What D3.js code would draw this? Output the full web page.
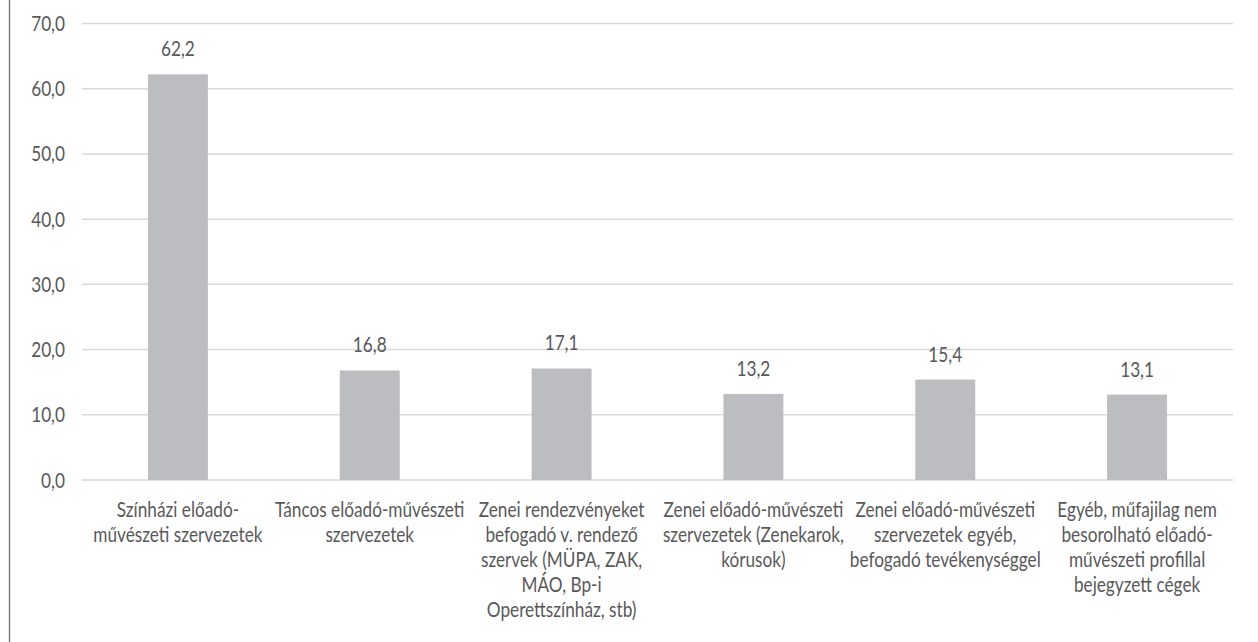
<!DOCTYPE html>
<html>
  <head>
    <meta charset="utf-8">
    <title>Előadó-művészeti szervezetek</title>
    <script src="https://cdn.jsdelivr.net/npm/d3@7"></script>
    <style>
      body { margin: 0; background: #fff; }
      svg { display: block; }
    </style>
  </head>
  <body>
    <svg></svg>
    <script>
      let categories = [
        "Színházi előadó-\nművészeti szervezetek",
        "Táncos előadó-művészeti\nszervezetek",
        "Zenei rendezvényeket\nbefogadó v. rendező\nszervek (MÜPA, ZAK,\nMÁO, Bp-i\nOperettszínház, stb)",
        "Zenei előadó-művészeti\nszervezetek (Zenekarok,\nkórusok)",
        "Zenei előadó-művészeti\nszervezetek egyéb,\nbefogadó tevékenységgel",
        "Egyéb, műfajilag nem\nbesorolható előadó-\nművészeti profillal\nbejegyzett cégek"
      ];
      let values = [62.2, 16.8, 17.1, 13.2, 15.4, 13.1];
      let yTicks = [0, 10, 20, 30, 40, 50, 60, 70];

      let w = 1258, h = 642;
      let margin = {top: 23.5, bottom: 162, left: 82, right: 25};
      let fontFamily = `Lato, 'Open Sans', sans-serif`;
      let textColor = "#595959";
      let fontSize = 21;
      let squeeze = 0.82;   // the glyphs in the picture are narrow
      let fmt = v => d3.format(".1f")(v).replace(".", ",");

      let data = categories.map((c, i) => ({name: c, value: values[i]}));

      let svg = d3.select("svg")
                  .attr("width", w)
                  .attr("height", h);

      let x = d3.scaleBand()
                .domain(categories)
                .range([margin.left, w - margin.right])
                .paddingInner(0.6875)
                .paddingOuter(0.34375);

      let y = d3.scaleLinear()
                .domain([0, 70])
                .range([h - margin.bottom, margin.top]);

      //left frame line
      svg.append("line")
         .attr("x1", 9.5).attr("x2", 9.5)
         .attr("y1", 0).attr("y2", h)
         .attr("stroke", "#6e6e6e")
         .attr("stroke-width", 1.3);

      //gridlines
      svg.append("g")
         .selectAll("line")
         .data(yTicks)
         .enter()
         .append("line")
         .attr("x1", margin.left)
         .attr("x2", w - margin.right)
         .attr("y1", d => y(d))
         .attr("y2", d => y(d))
         .attr("stroke", "#d9d9d9")
         .attr("stroke-width", 1.5);

      //y tick labels
      svg.append("g")
         .selectAll("text")
         .data(yTicks)
         .enter()
         .append("text")
         .attr("transform", d => `translate(65,${y(d) + 7.5}) scale(${squeeze},1)`)
         .attr("text-anchor", "end")
         .attr("font-family", fontFamily)
         .attr("font-size", fontSize)
         .attr("fill", textColor)
         .text(d => fmt(d));

      //bars
      svg.append("g")
         .selectAll("rect")
         .data(data)
         .enter()
         .append("rect")
         .attr("x", d => x(d.name))
         .attr("y", d => y(d.value))
         .attr("width", x.bandwidth())
         .attr("height", d => y(0) - y(d.value))
         .attr("fill", "#bcbdc0");

      //value labels
      svg.append("g")
         .selectAll("text")
         .data(data)
         .enter()
         .append("text")
         .attr("transform", d => `translate(${x(d.name) + x.bandwidth() / 2},${y(d.value) - 18}) scale(${squeeze},1)`)
         .attr("text-anchor", "middle")
         .attr("font-family", fontFamily)
         .attr("font-size", fontSize)
         .attr("fill", textColor)
         .text(d => fmt(d.value));

      //category labels
      let labels = svg.append("g")
                      .selectAll("text")
                      .data(data)
                      .enter()
                      .append("text")
                      .attr("transform", d => `translate(${x(d.name) + x.bandwidth() / 2},${y(0) + 37}) scale(${squeeze},1)`)
                      .attr("text-anchor", "middle")
                      .attr("font-family", fontFamily)
                      .attr("font-size", fontSize)
                      .attr("fill", textColor);

      labels.selectAll("tspan")
            .data(d => d.name.split("\n"))
            .enter()
            .append("tspan")
            .attr("x", 0)
            .attr("dy", (d, i) => i === 0 ? 0 : 25)
            .text(d => d);
    </script>
  </body>
</html>
